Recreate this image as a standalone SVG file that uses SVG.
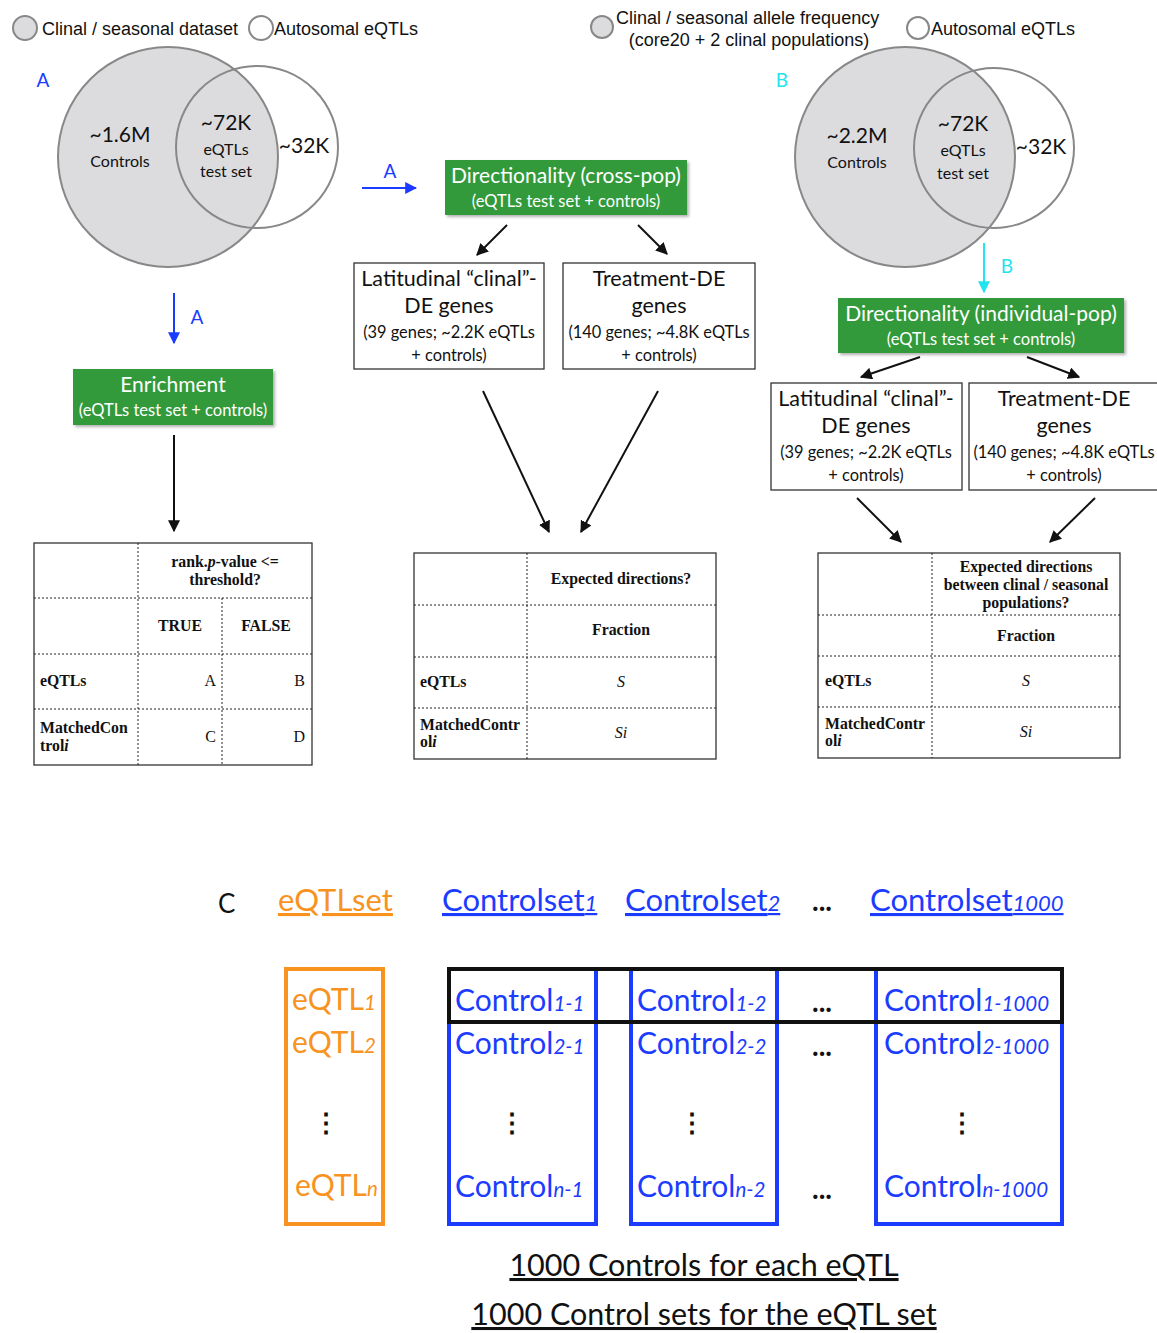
<svg xmlns="http://www.w3.org/2000/svg" width="1157" height="1333" viewBox="0 0 1157 1333">
<style>
.leg{font-family:"Liberation Sans",Arial,sans-serif;font-size:18px;fill:#111}
.c{font-family:Lato,"Open Sans",sans-serif;fill:#111}
.big{font-size:21px}
.mid{font-size:16px}
.gbox{fill:#339a3b}
.gt{font-family:Lato,"Open Sans",sans-serif;fill:#fff;text-anchor:middle}
.wbox{fill:#fff;stroke:#333;stroke-width:1.3}
.bt{font-family:Lato,"Open Sans",sans-serif;fill:#111;text-anchor:middle}
.tb{fill:#fff;stroke:#333;stroke-width:1.3}
.dl{stroke:#222;stroke-width:1;stroke-dasharray:2,2;fill:none}
.tt{font-family:"Liberation Serif","Times New Roman",serif;font-size:15.8px;font-weight:bold;fill:#111}
.ti{font-family:"Liberation Serif","Times New Roman",serif;font-size:16px;font-style:italic;fill:#111}
.tr{font-family:"Liberation Serif","Times New Roman",serif;font-size:16px;fill:#111}
.blk{stroke:#111;stroke-width:2;fill:none}
.blu{stroke:#1b3cff;stroke-width:2;fill:none}
.cyn{stroke:#22e3f0;stroke-width:2;fill:none}
.C{font-family:Lato,"Open Sans",sans-serif;font-size:31px}
.K{font-family:Lato,"Open Sans",sans-serif;font-size:30px}
.sub{font-style:italic;font-size:22px}
.ks{font-style:italic;font-size:20.5px}
.or{fill:#f7931e}
.bl{fill:#1b3cff}
.dots{font-family:Lato,sans-serif;font-size:28px;font-weight:bold;fill:#111;text-anchor:middle}
.vd{font-family:Lato,sans-serif;font-size:26px;font-weight:bold;fill:#111;text-anchor:middle}
</style>
<defs>
<marker id="ak" viewBox="0 0 10 10" refX="9" refY="5" markerWidth="6" markerHeight="6" orient="auto"><path d="M0,0L10,5L0,10z" fill="#111"/></marker>
<marker id="ab" viewBox="0 0 10 10" refX="9" refY="5" markerWidth="6" markerHeight="6" orient="auto"><path d="M0,0L10,5L0,10z" fill="#1b3cff"/></marker>
<marker id="ac" viewBox="0 0 10 10" refX="9" refY="5" markerWidth="6" markerHeight="6" orient="auto"><path d="M0,0L10,5L0,10z" fill="#22e3f0"/></marker>
<filter id="sh" x="-5%" y="-10%" width="115%" height="130%"><feDropShadow dx="2" dy="2" stdDeviation="1.5" flood-color="#000" flood-opacity="0.3"/></filter>
</defs>

<!-- Left legend + venn -->
<g id="legendA">
<circle cx="25" cy="28" r="12" fill="#dcdcdf" stroke="#888" stroke-width="2"/>
<text class="leg" x="42" y="35">Clinal / seasonal dataset</text>
<circle cx="261" cy="28" r="12" fill="#fff" stroke="#888" stroke-width="2"/>
<text class="leg" x="274" y="35">Autosomal eQTLs</text>
</g>
<g id="vennA">
<circle cx="168" cy="157" r="110" fill="#dcdcdf" stroke="#888" stroke-width="2"/>
<circle cx="257" cy="147" r="81" fill="none" stroke="#888" stroke-width="2"/>
<text x="43" y="87" font-family="Lato,sans-serif" font-size="19" fill="#1b3cff" text-anchor="middle">A</text>
<text class="c big" x="120" y="142" text-anchor="middle">~1.6M</text>
<text class="c mid" x="120" y="167" text-anchor="middle">Controls</text>
<text class="c big" x="226" y="130" text-anchor="middle">~72K</text>
<text class="c mid" x="226" y="155" text-anchor="middle">eQTLs</text>
<text class="c mid" x="226" y="177" text-anchor="middle">test set</text>
<text class="c big" x="304" y="153" text-anchor="middle">~32K</text>
</g>

<!-- Right legend + venn -->
<g id="legendB">
<circle cx="602" cy="27" r="11" fill="#dcdcdf" stroke="#888" stroke-width="2"/>
<text class="leg" x="616" y="24">Clinal / seasonal allele frequency</text>
<text class="leg" x="749" y="46" text-anchor="middle">(core20 + 2 clinal populations)</text>
<circle cx="918" cy="28" r="11" fill="#fff" stroke="#888" stroke-width="2"/>
<text class="leg" x="931" y="35">Autosomal eQTLs</text>
</g>
<g id="vennB">
<circle cx="905" cy="157" r="110" fill="#dcdcdf" stroke="#888" stroke-width="2"/>
<circle cx="994" cy="148" r="80" fill="none" stroke="#888" stroke-width="2"/>
<text x="782" y="87" font-family="Lato,sans-serif" font-size="19" fill="#22e3f0" text-anchor="middle">B</text>
<text class="c big" x="857" y="143" text-anchor="middle">~2.2M</text>
<text class="c mid" x="857" y="168" text-anchor="middle">Controls</text>
<text class="c big" x="963" y="131" text-anchor="middle">~72K</text>
<text class="c mid" x="963" y="156" text-anchor="middle">eQTLs</text>
<text class="c mid" x="963" y="179" text-anchor="middle">test set</text>
<text class="c big" x="1041" y="154" text-anchor="middle">~32K</text>
</g>

<!-- Green boxes -->
<g id="dirCross">
<rect class="gbox" x="445" y="160" width="242" height="55" filter="url(#sh)"/>
<text class="gt" x="566" y="183" font-size="21">Directionality (cross-pop)</text>
<text class="gt" x="566" y="207" font-size="16.5">(eQTLs test set + controls)</text>
</g>
<g id="enrichment">
<rect class="gbox" x="73" y="369" width="200" height="56" filter="url(#sh)"/>
<text class="gt" x="173" y="392" font-size="21">Enrichment</text>
<text class="gt" x="173" y="416" font-size="16.5">(eQTLs test set + controls)</text>
</g>
<g id="dirIndiv">
<rect class="gbox" x="838" y="298" width="286" height="55" filter="url(#sh)"/>
<text class="gt" x="981" y="321" font-size="21">Directionality (individual-pop)</text>
<text class="gt" x="981" y="345" font-size="16.5">(eQTLs test set + controls)</text>
</g>

<!-- White gene boxes -->
<g id="latA">
<rect class="wbox" x="354" y="263" width="190" height="106"/>
<text class="bt" x="449" y="286" font-size="21.5">Latitudinal “clinal”-</text>
<text class="bt" x="449" y="313" font-size="21.5">DE genes</text>
<text class="bt" x="449" y="338" font-size="16.4">(39 genes; ~2.2K eQTLs</text>
<text class="bt" x="449" y="361" font-size="16.4">+ controls)</text>
</g>
<g id="treatA">
<rect class="wbox" x="563" y="263" width="192" height="106"/>
<text class="bt" x="659" y="286" font-size="21.5">Treatment-DE</text>
<text class="bt" x="659" y="313" font-size="21.5">genes</text>
<text class="bt" x="659" y="338" font-size="16.4">(140 genes; ~4.8K eQTLs</text>
<text class="bt" x="659" y="361" font-size="16.4">+ controls)</text>
</g>
<g id="latB">
<rect class="wbox" x="771" y="383" width="191" height="107"/>
<text class="bt" x="866" y="406" font-size="21.5">Latitudinal “clinal”-</text>
<text class="bt" x="866" y="433" font-size="21.5">DE genes</text>
<text class="bt" x="866" y="458" font-size="16.4">(39 genes; ~2.2K eQTLs</text>
<text class="bt" x="866" y="481" font-size="16.4">+ controls)</text>
</g>
<g id="treatB">
<rect class="wbox" x="969" y="383" width="195" height="107"/>
<text class="bt" x="1064" y="406" font-size="21.5">Treatment-DE</text>
<text class="bt" x="1064" y="433" font-size="21.5">genes</text>
<text class="bt" x="1064" y="458" font-size="16.4">(140 genes; ~4.8K eQTLs</text>
<text class="bt" x="1064" y="481" font-size="16.4">+ controls)</text>
</g>

<!-- Tables -->
<g id="tableEnrich">
<rect class="tb" x="34" y="543" width="278" height="222"/>
<path class="dl" d="M138,543V765M222,598V765M34,598H312M34,654H312M34,709H312"/>
<text class="tt" x="225" y="567" text-anchor="middle">rank.<tspan font-style="italic">p</tspan>-value &lt;=</text>
<text class="tt" x="225" y="585" text-anchor="middle">threshold?</text>
<text class="tt" x="180" y="631" text-anchor="middle">TRUE</text>
<text class="tt" x="266" y="631" text-anchor="middle">FALSE</text>
<text class="tt" x="40" y="686">eQTLs</text>
<text class="tr" x="216" y="686" text-anchor="end">A</text>
<text class="tr" x="305" y="686" text-anchor="end">B</text>
<text class="tt" x="40" y="733">MatchedCon</text>
<text class="tt" x="40" y="751">trol<tspan font-style="italic">i</tspan></text>
<text class="tr" x="216" y="742" text-anchor="end">C</text>
<text class="tr" x="305" y="742" text-anchor="end">D</text>
</g>
<g id="tableCross">
<rect class="tb" x="414" y="553" width="302" height="206"/>
<path class="dl" d="M527,553V759M414,605H716M414,657H716M414,708H716"/>
<text class="tt" x="621" y="584" text-anchor="middle">Expected directions?</text>
<text class="tt" x="621" y="635" text-anchor="middle">Fraction</text>
<text class="tt" x="420" y="687">eQTLs</text>
<text class="ti" x="621" y="687" text-anchor="middle">S</text>
<text class="tt" x="420" y="730">MatchedContr</text>
<text class="tt" x="420" y="747">ol<tspan font-style="italic">i</tspan></text>
<text class="ti" x="621" y="738" text-anchor="middle">Si</text>
</g>
<g id="tableIndiv">
<rect class="tb" x="818" y="553" width="302" height="205"/>
<path class="dl" d="M932,553V758M818,615H1120M818,656H1120M818,707H1120"/>
<text class="tt" x="1026" y="572" text-anchor="middle">Expected directions</text>
<text class="tt" x="1026" y="590" text-anchor="middle">between clinal / seasonal</text>
<text class="tt" x="1026" y="608" text-anchor="middle">populations?</text>
<text class="tt" x="1026" y="641" text-anchor="middle">Fraction</text>
<text class="tt" x="825" y="686">eQTLs</text>
<text class="ti" x="1026" y="686" text-anchor="middle">S</text>
<text class="tt" x="825" y="729">MatchedContr</text>
<text class="tt" x="825" y="746">ol<tspan font-style="italic">i</tspan></text>
<text class="ti" x="1026" y="737" text-anchor="middle">Si</text>
</g>

<!-- Connectors -->
<g id="connectors">
<line class="blu" x1="362" y1="188" x2="416" y2="188" marker-end="url(#ab)"/>
<text x="390" y="178" font-family="Lato,sans-serif" font-size="19" fill="#1b3cff" text-anchor="middle">A</text>
<line class="blu" x1="174" y1="293" x2="174" y2="343" marker-end="url(#ab)"/>
<text x="197" y="324" font-family="Lato,sans-serif" font-size="19" fill="#1b3cff" text-anchor="middle">A</text>
<line class="cyn" x1="984" y1="243" x2="984" y2="292" marker-end="url(#ac)"/>
<text x="1007" y="273" font-family="Lato,sans-serif" font-size="19" fill="#22e3f0" text-anchor="middle">B</text>
<line class="blk" x1="507" y1="225" x2="477" y2="255" marker-end="url(#ak)"/>
<line class="blk" x1="638" y1="225" x2="667" y2="254" marker-end="url(#ak)"/>
<line class="blk" x1="483" y1="391" x2="549" y2="532" marker-end="url(#ak)"/>
<line class="blk" x1="658" y1="391" x2="581" y2="532" marker-end="url(#ak)"/>
<line class="blk" x1="174" y1="435" x2="174" y2="531" marker-end="url(#ak)"/>
<line class="blk" x1="920" y1="357" x2="861" y2="377" marker-end="url(#ak)"/>
<line class="blk" x1="1027" y1="357" x2="1079" y2="377" marker-end="url(#ak)"/>
<line class="blk" x1="857" y1="498" x2="901" y2="542" marker-end="url(#ak)"/>
<line class="blk" x1="1095" y1="498" x2="1050" y2="542" marker-end="url(#ak)"/>
</g>

<!-- Section C -->
<g id="sectionC">
<text x="218" y="913" font-family="Lato,sans-serif" font-size="26" fill="#111">C</text>
<text class="C or" x="278" y="911" text-decoration="underline">eQTLset</text>
<text class="C bl" x="442" y="911" text-decoration="underline">Controlset<tspan class="sub">1</tspan></text>
<text class="C bl" x="625" y="911" text-decoration="underline">Controlset<tspan class="sub">2</tspan></text>
<text class="dots" x="822" y="911">...</text>
<text class="C bl" x="870" y="911" text-decoration="underline">Controlset<tspan class="sub">1000</tspan></text>
</g>
<g id="eqtlCol">
<rect x="286" y="969" width="97" height="255" fill="none" stroke="#f7931e" stroke-width="4"/>
<text class="K or" x="292" y="1010">eQTL<tspan class="ks">1</tspan></text>
<text class="K or" x="292" y="1053">eQTL<tspan class="ks">2</tspan></text>
<text class="vd" x="326" y="1132">⋮</text>
<text class="K or" x="295" y="1196">eQTL<tspan class="ks">n</tspan></text>
</g>
<g id="ctrlCol1">
<rect x="449" y="969" width="147" height="255" fill="none" stroke="#1b3cff" stroke-width="4"/>
<text class="K bl" x="455" y="1011">Control<tspan class="ks">1-1</tspan></text>
<text class="K bl" x="455" y="1054">Control<tspan class="ks">2-1</tspan></text>
<text class="vd" x="512" y="1132">⋮</text>
<text class="K bl" x="455" y="1197">Control<tspan class="ks">n-1</tspan></text>
</g>
<g id="ctrlCol2">
<rect x="631" y="969" width="146" height="255" fill="none" stroke="#1b3cff" stroke-width="4"/>
<text class="K bl" x="637" y="1011">Control<tspan class="ks">1-2</tspan></text>
<text class="K bl" x="637" y="1054">Control<tspan class="ks">2-2</tspan></text>
<text class="vd" x="692" y="1132">⋮</text>
<text class="K bl" x="637" y="1197">Control<tspan class="ks">n-2</tspan></text>
</g>
<g id="ctrlDots">
<text class="dots" x="822" y="1012">...</text>
<text class="dots" x="822" y="1056">...</text>
<text class="dots" x="822" y="1199">...</text>
</g>
<g id="ctrlCol1000">
<rect x="876" y="969" width="186" height="255" fill="none" stroke="#1b3cff" stroke-width="4"/>
<text class="K bl" x="884" y="1011">Control<tspan class="ks">1-1000</tspan></text>
<text class="K bl" x="884" y="1054">Control<tspan class="ks">2-1000</tspan></text>
<text class="vd" x="962" y="1132">⋮</text>
<text class="K bl" x="884" y="1197">Control<tspan class="ks">n-1000</tspan></text>
</g>
<g id="row1">
<rect x="449" y="969" width="613" height="53" fill="none" stroke="#111" stroke-width="4"/>
</g>
<g id="captions">
<text x="704" y="1276" font-family="Lato,sans-serif" font-size="30.5" fill="#111" text-anchor="middle" text-decoration="underline">1000 Controls for each eQTL</text>
<text x="704" y="1325" font-family="Lato,sans-serif" font-size="30.5" fill="#111" text-anchor="middle" text-decoration="underline">1000 Control sets for the eQTL set</text>
</g>
</svg>
